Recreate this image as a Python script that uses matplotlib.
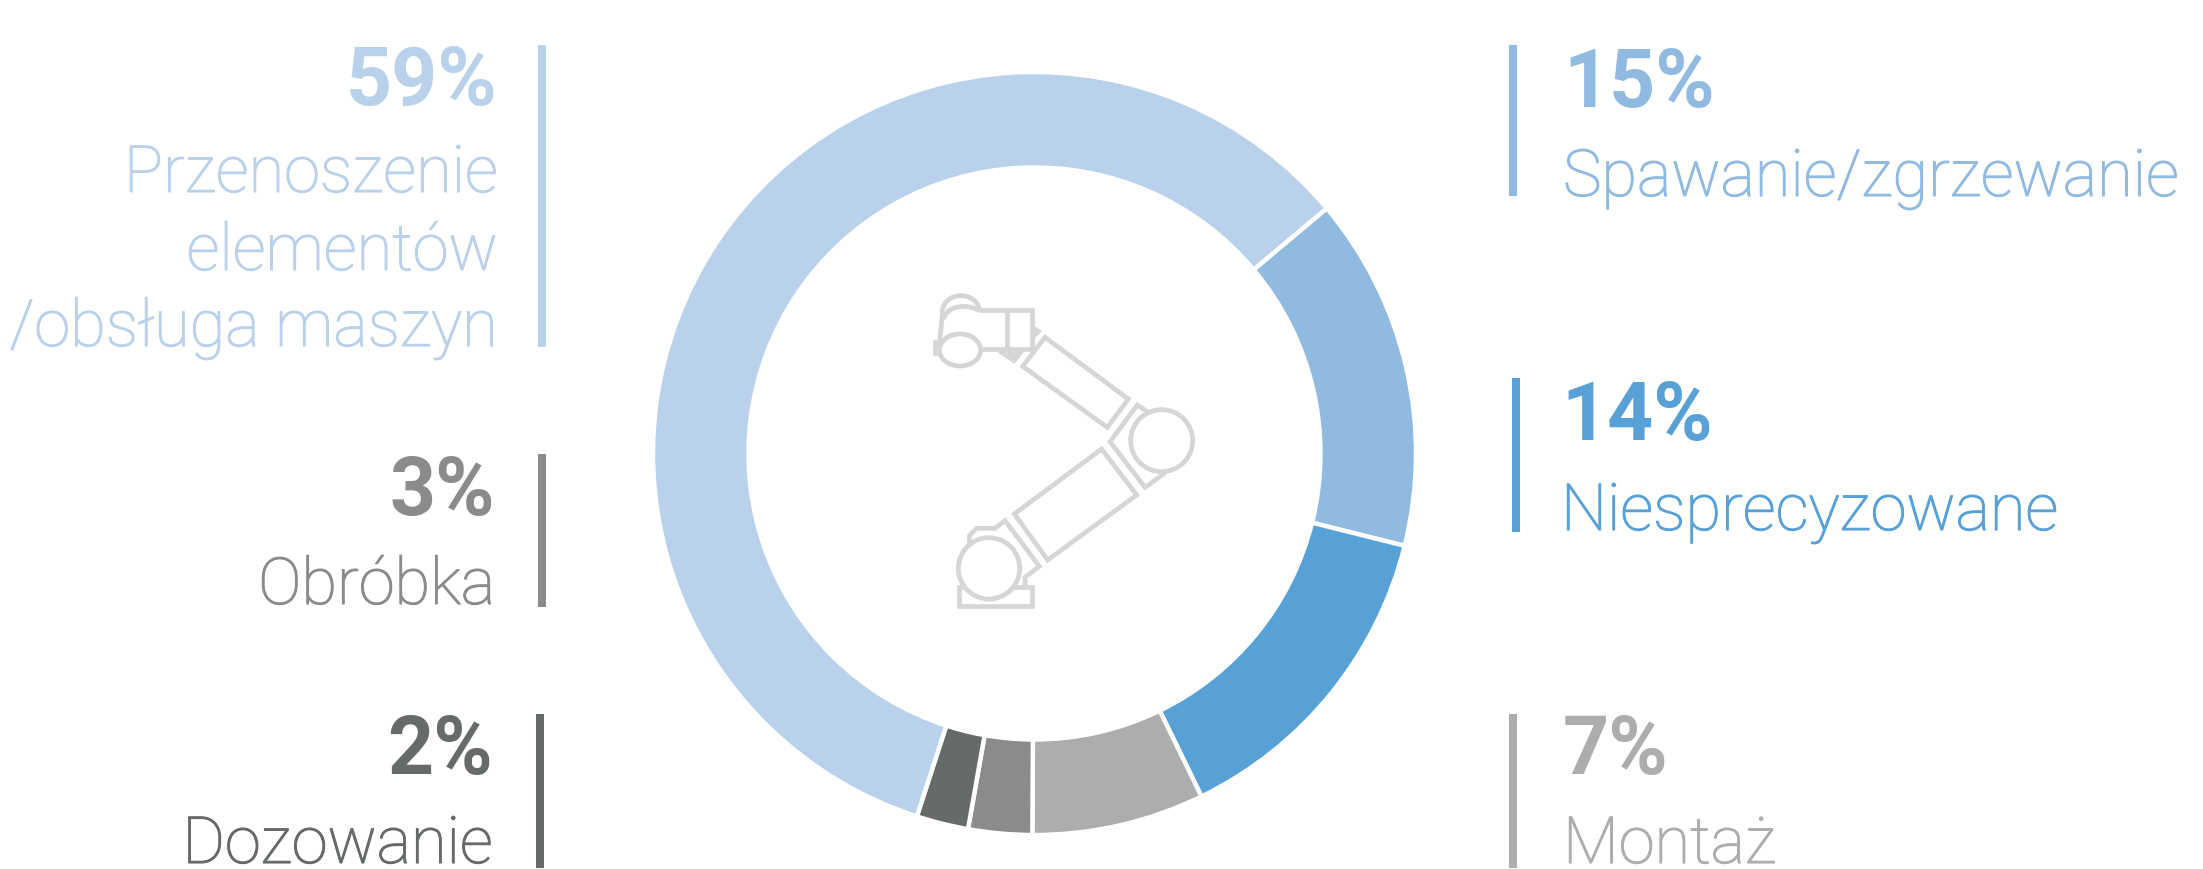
import matplotlib
matplotlib.use('Agg')
import matplotlib.pyplot as plt
import matplotlib.patheffects as pe
from matplotlib.patches import Circle, Ellipse, PathPatch, Polygon, Rectangle
from matplotlib.path import Path

# Dane wykresu (kolejnosc zgodnie z ruchem wskazowek zegara)
kategorie = ['Spawanie/zgrzewanie', 'Niesprecyzowane', 'Montaż', 'Obróbka', 'Dozowanie',
             'Przenoszenie\nelementów\n/obsługa maszyn']
etykiety_proc = ['15%', '14%', '7%', '3%', '2%', '59%']
udzialy = [15.0, 13.9, 7.3, 2.7, 2.2, 58.9]
kolory = ['#91BAE0', '#58A1D6', '#ADADAD', '#8A8C8B', '#666A6A', '#B9D1EA']

W, H = 2203, 870
ICON = '#D6D6D6'
FONT = 'Roboto'

fig = plt.figure(figsize=(W / 100, H / 100), dpi=100, facecolor='white')

# warstwa w pikselach na teksty, paski i ikone
ax = fig.add_axes([0, 0, 1, 1])
ax.set_xlim(0, W)
ax.set_ylim(H, 0)
ax.axis('off')

# Wykres pierscieniowy
cx, cy, R, r = 1034.5, 454.5, 381.5, 286
pad = R + 5
ax_pie = fig.add_axes([(cx - pad) / W, 1 - (cy + pad) / H, 2 * pad / W, 2 * pad / H])
ax_pie.pie(udzialy, colors=kolory, startangle=40, counterclock=False, radius=R / pad,
           wedgeprops=dict(width=(R - r) / pad, edgecolor='white', linewidth=3.2))
ax_pie.set_xlim(-1, 1)
ax_pie.set_ylim(-1, 1)
ax_pie.set_zorder(0)
ax.set_zorder(1)
ax.patch.set_alpha(0)


def etykieta(indeks, x, ha, y_proc, y_opis, y_pasek, x_pasek, szer_pasek=8):
    kolor = kolory[indeks]
    ax.text(x, y_proc, etykiety_proc[indeks], color=kolor, ha=ha, va='baseline',
            fontsize=58, fontweight='bold', family=FONT)
    for linia, y in zip(kategorie[indeks].split('\n'), y_opis):
        t = ax.text(x, y, linia, color=kolor, ha=ha, va='baseline', fontsize=46.8,
                    fontweight='light', family=FONT)
        # opisy w oryginale sa nieco grubsze niz Roboto Light
        t.set_path_effects([pe.withStroke(linewidth=0.8, foreground=kolor)])
    ax.add_patch(Rectangle((x_pasek, y_pasek[0]), szer_pasek, y_pasek[1] - y_pasek[0],
                           facecolor=kolor, edgecolor='none'))


etykieta(5, 498, 'right', 105, [193, 271, 347], (46, 348), 538)
etykieta(3, 495, 'right', 515, [605], (455, 608), 538)
etykieta(4, 493, 'right', 774, [864], (715, 869), 536)
etykieta(0, 1563, 'left', 107, [197], (46, 197), 1509)
etykieta(1, 1561, 'left', 440, [531], (379, 533), 1512)
etykieta(2, 1563, 'left', 774, [864], (715, 869), 1509)


# Ikona robota - wspolrzedne z powiekszenia (x3 od punktu 880,270)
def p(x, y):
    return 880 + x / 3, 270 + y / 3


styl = dict(fill=False, edgecolor=ICON, linewidth=3.4, joinstyle='miter')


def linia(punkty, zamknij=False):
    ax.add_patch(Polygon([p(*q) for q in punkty], closed=zamknij, **styl))


def krzywa(p0, c1, c2, p1):
    sciezka = Path([p(*p0), p(*c1), p(*c2), p(*p1)],
                   [Path.MOVETO, Path.CURVE4, Path.CURVE4, Path.CURVE4])
    ax.add_patch(PathPatch(sciezka, **styl))


# podstawa i ramie dolne
linia([(238, 955), (455, 955), (455, 1010), (238, 1010)], True)
ax.add_patch(Circle(p(327, 898), 92 / 3, facecolor='white', edgecolor=ICON, linewidth=3.4))
linia([(268, 825), (268, 800), (290, 778), (345, 778), (375, 755), (478, 892), (435, 925), (435, 955)])
linia([(665, 540), (770, 678), (503, 873), (403, 735)], True)
# lokiec
linia([(805, 430), (772, 408), (690, 518), (795, 655), (855, 612)])
ax.add_patch(Circle(p(845, 515), 93 / 3, facecolor='white', edgecolor=ICON, linewidth=3.4))
# ramie gorne
linia([(495, 205), (745, 390), (682, 475), (428, 292)], True)
# glowica
linia([(298, 122), (455, 122), (455, 240), (305, 240)])
linia([(380, 122), (380, 240)])
linia([(455, 175), (475, 187), (455, 207)])
linia([(358, 245), (402, 275), (430, 240)])
linia([(380, 240), (402, 262), (420, 242)])
linia([(188, 130), (178, 225)])
linia([(185, 220), (165, 220), (165, 252), (185, 252)])
ax.add_patch(Ellipse(p(240, 243), 124 / 3, 96 / 3, facecolor='white', edgecolor=ICON, linewidth=3.4))
krzywa((186, 130), (192, 65), (285, 65), (298, 120))
krzywa((190, 150), (205, 105), (265, 105), (298, 125))

fig.savefig('out.png', dpi=100, facecolor='white')
plt.close(fig)
